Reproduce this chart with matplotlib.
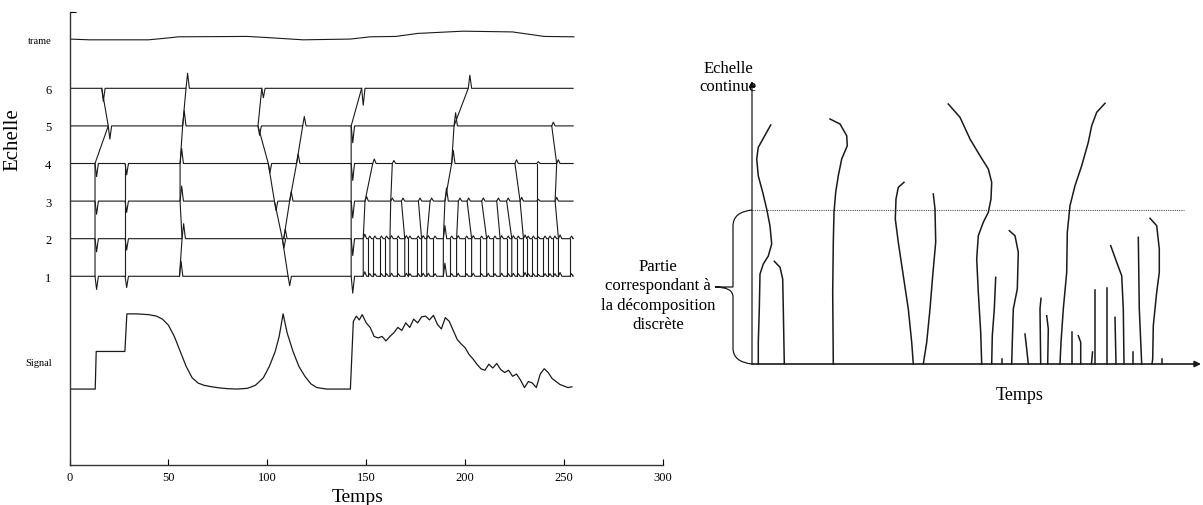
import matplotlib
matplotlib.use("Agg")
import matplotlib.pyplot as plt
from matplotlib.path import Path
from matplotlib.patches import PathPatch

plt.rcParams['font.family'] = ['Liberation Serif', 'DejaVu Serif']

# ---------------- left panel data ----------------
scale_levels = [1, 2, 3, 4, 5, 6]
level_labels = ['1', '2', '3', '4', '5', '6']
t_end = 254.6

trame_t = [0, 10, 40, 50, 55, 90, 100, 118, 142, 152, 165, 176, 199, 224, 240, 255]
trame_v = [7.31, 7.29, 7.29, 7.34, 7.37, 7.38, 7.35, 7.29, 7.31, 7.37, 7.38, 7.46, 7.52, 7.50, 7.38, 7.37]

signal_t = [0, 13, 13.5, 28, 29, 34, 40, 44, 47, 50, 53, 56, 59, 62, 65, 68, 72, 76, 80, 85,
            90, 94, 98, 101, 104, 106, 107, 108, 110, 113, 116, 119, 122, 125, 130, 142, 143.5,
            145, 146.5, 148, 150, 152, 154, 156, 158, 160, 162, 164, 166, 168, 170, 172, 174,
            176, 178, 180, 182, 184, 186, 188, 190, 192, 194, 196, 198, 200, 202, 204, 206, 208,
            210, 212, 214, 216, 218, 220, 222, 224, 226, 228, 230, 232, 234, 236, 238, 240, 242,
            244, 246, 248, 250, 252, 254]
signal_v = [0, 0, 0.5, 0.5, 1.0, 1.0, 0.99, 0.97, 0.93, 0.85, 0.7, 0.5, 0.3, 0.15, 0.08, 0.05,
            0.03, 0.015, 0.005, 0.0, 0.01, 0.05, 0.15, 0.3, 0.5, 0.7, 0.85, 1.0, 0.75, 0.5, 0.3,
            0.17, 0.07, 0.02, 0.0, 0.0, 0.9, 0.97, 0.92, 0.99, 0.88, 0.82, 0.7, 0.68, 0.7, 0.64,
            0.7, 0.75, 0.82, 0.78, 0.88, 0.82, 0.93, 0.88, 0.96, 0.97, 0.92, 0.98, 0.86, 0.8,
            0.95, 0.9, 0.78, 0.66, 0.6, 0.55, 0.46, 0.4, 0.33, 0.27, 0.25, 0.33, 0.28, 0.34,
            0.26, 0.22, 0.25, 0.17, 0.2, 0.12, 0.02, 0.1, 0.08, 0.02, 0.2, 0.27, 0.22, 0.14,
            0.1, 0.06, 0.04, 0.02, 0.03]

# maxima chains: (level, time) from coarse to fine scale
chains = [
    [(6, 16.3), (5, 19.6), (4, 12.9), (3, 12.9), (2, 12.9), (1, 12.9)],
    [(4, 28.1), (3, 28.1), (2, 28.1), (1, 28.1)],
    [(6, 58.9), (5, 57.2), (4, 55.9), (3, 55.9), (2, 56.9), (1, 55.6)],
    [(6, 97.2), (5, 95.3), (4, 100.5), (3, 103.6), (2, 107.6), (1, 110.5)],
    [(5, 117.9), (4, 114.8), (3, 111.3), (2, 108.3)],
    [(6, 147.7), (5, 142.4), (4, 142.4), (3, 142.4), (2, 142.4), (1, 142.4)],
    [(4, 153.3), (3, 149.4), (2, 148.5), (1, 148.5)],
    [(4, 163.2), (3, 162.4), (2, 162.0), (1, 162.0)],
    [(6, 201.6), (5, 194.4), (4, 193.2), (3, 189.8), (2, 189.0), (1, 189.0)],
    [(4, 225.2), (3, 227.8), (2, 229.5), (1, 229.5)],
    [(4, 236.2), (3, 236.2), (2, 236.2), (1, 236.2)],
    [(5, 243.8), (4, 246.3), (3, 245.5), (2, 247.2), (1, 247.2)],
    [(3, 167.8), (2, 169.5), (1, 169.5)],
    [(3, 176.4), (2, 178.0), (1, 178.0)],
    [(3, 182.3), (2, 180.6), (1, 180.6)],
    [(3, 196.6), (2, 195.7), (1, 195.7)],
    [(3, 201.0), (2, 203.3), (1, 203.3)],
    [(3, 208.4), (2, 210.9), (1, 210.9)],
    [(3, 216.0), (2, 217.7), (1, 217.7)],
    [(3, 221.0), (2, 223.6), (1, 223.6)],
]
chain_amp = [-0.35, -0.3, 0.4, -0.25, 0.25, -0.45, 0.12, 0.08, 0.35, 0.1, 0.05, 0.1,
             0.08, 0.08, 0.08, 0.08, 0.08, 0.08, 0.08, 0.08]

# short maxima lines between the two finest scales
fine_lines = [151.0, 153.6, 156.9, 159.5, 165.4, 171.3, 175.5, 184.0, 192.4, 200.0, 207.5,
              214.3, 221.0, 226.1, 231.1, 233.7, 239.6, 242.1, 244.6, 253.0]
for t in fine_lines:
    chains.append([(2, t), (1, t)])
    chain_amp.append(0.07)

# ---------------- right panel data ----------------
ridges = [
    [(18.7, 239), (6.3, 216.7), (4.7, 205), (6.3, 188), (10.7, 171.7), (14.7, 155), (18, 138),
     (19.7, 120), (16.3, 108), (11.3, 100), (8, 90), (7.3, 55), (6.3, 21.7), (6.3, 0)],
    [(22.3, 102.7), (28, 96.7), (30.7, 85), (31.3, 55), (32.3, 0)],
    [(78, 245), (88, 240), (94.7, 228.3), (95.3, 218.3), (89.7, 205), (86.3, 188.3),
     (83.7, 171.7), (82, 151.7), (81.3, 121.7), (80.7, 71.7), (81.3, 0)],
    [(152, 181.7), (146.3, 176.7), (144, 165), (143.3, 145), (146.3, 121.7), (151.3, 88.3),
     (156.3, 55), (159.7, 21.7), (161.3, 0)],
    [(181.3, 170), (183, 155), (183.7, 121.7), (180.7, 88.3), (178, 55), (174.7, 21.7), (171.3, 0)],
    [(196.3, 260), (208, 246.7), (218, 225), (228, 208.3), (236.3, 195), (239.7, 181.7),
     (239, 165), (236.3, 151.7), (231.3, 141.7), (226.3, 128.3), (224.7, 105), (226.3, 71.7),
     (228.7, 31.7), (229.7, 0)],
    [(243.7, 86.7), (242.3, 55), (240.3, 28.3), (239.7, 0)],
    [(257.3, 133.3), (263, 128.3), (266.3, 111.7), (265.3, 75), (261.3, 55), (260.3, 21.7), (259.7, 0)],
    [(249.7, 5), (249.7, 0)],
    [(273, 30), (274.7, 15), (276.3, 0)],
    [(289, 65.7), (288, 55), (288.7, 0)],
    [(294.7, 48.3), (296.3, 35), (295.7, 0)],
    [(353, 260.7), (344.7, 251.7), (339.7, 238.3), (336.3, 221.7), (329.7, 198.3), (323, 178.3),
     (318, 158.3), (315.3, 131.7), (314.7, 91.7), (311.3, 55), (309, 21.7), (308, 0)],
    [(319.7, 31.7), (319.7, 0)],
    [(326.3, 28.3), (328.7, 21.7), (328.7, 0)],
    [(340.5, 12), (339.5, 0)],
    [(343, 74), (343, 0)],
    [(354.7, 75.7), (354.7, 0)],
    [(358.7, 118.3), (364.7, 101.7), (369.7, 88.3), (371.3, 55), (372, 0)],
    [(363, 46.7), (364, 0)],
    [(380.7, 11.7), (380.7, 0)],
    [(386.3, 126.7), (387.3, 55), (389.7, 0)],
    [(398, 145.7), (404.7, 138.3), (407.3, 115), (407.3, 91.7), (404.7, 71.7), (401.3, 38.3),
     (400.7, 5), (400, 0)],
    [(409.7, 5), (409.7, 0)],
]
discrete_limit = 154
dotted_end = 432

ink = '#1a1a1a'

fig = plt.figure(figsize=(12.03, 5.06), dpi=100)

# ---------------- left panel ----------------
ax = fig.add_axes([69.5 / 1203, 40 / 506, 593.4 / 1203, 453 / 506])
ax.set_facecolor('none')
ax.set_xlim(0, 300)
ax.set_ylim(-4.02, 8.03)

ax.plot(trame_t, trame_v, color=ink, lw=0.8)

for lev in scale_levels:
    spikes = sorted((t, a) for ch, a in zip(chains, chain_amp) for (l, t) in ch if l == lev)
    xs, ys = [0], [lev]
    for t, a in spikes:
        xs += [t, t + 0.8, t + 1.7]
        ys += [lev, lev + a, lev]
    xs.append(t_end)
    ys.append(lev)
    ax.plot(xs, ys, color=ink, lw=0.8)

for ch in chains:
    ax.plot([t for l, t in ch], [l for l, t in ch], color=ink, lw=0.8)

ax.plot(signal_t, [-2 + 2 * v for v in signal_v], color=ink, lw=0.9)

for side in ['top', 'right']:
    ax.spines[side].set_visible(False)
for side in ['left', 'bottom']:
    ax.spines[side].set_color('#333333')
    ax.spines[side].set_linewidth(1.0)

ax.set_xticks([0, 50, 100, 150, 200, 250, 300])
ax.tick_params(axis='x', direction='in', length=4, width=0.8, labelsize=9, pad=4)
ax.set_yticks([-1.26] + scale_levels + [7.31])
ax.set_yticklabels(['Signal'] + level_labels + ['trame'])
ax.tick_params(axis='y', length=0, pad=13, labelsize=9)
for lab in ax.get_yticklabels():
    if lab.get_text() in ('Signal', 'trame'):
        lab.set_fontsize(7.5)
ax.set_yticks([8.03], minor=True)
ax.tick_params(axis='y', which='minor', direction='in', length=4, width=0.8)

ax.set_xlabel('Temps', fontsize=14)
ax.xaxis.set_label_coords(0.486, -0.05)
ax.set_ylabel('Echelle', fontsize=15)
ax.yaxis.set_label_coords(-0.08, 0.72)

# ---------------- right panel ----------------
ax2 = fig.add_axes([752 / 1203, 141 / 506, 451 / 1203, 305 / 506])
ax2.set_facecolor('none')
ax2.set_xlim(0, 451)
ax2.set_ylim(0, 305)
ax2.axis('off')

ax2.annotate('', xy=(0, 283), xytext=(0, 0),
             arrowprops=dict(arrowstyle='-|>', lw=0.9, color=ink, mutation_scale=9,
                             shrinkA=0, shrinkB=0))
ax2.annotate('', xy=(449, 0), xytext=(0, 0),
             arrowprops=dict(arrowstyle='-|>', lw=1.2, color=ink, mutation_scale=9,
                             shrinkA=0, shrinkB=0))

ax2.plot([0, dotted_end], [discrete_limit, discrete_limit], color='#555555', lw=0.8,
         ls=(0, (1, 1)), clip_on=False)

for r in ridges:
    ax2.plot([p[0] for p in r], [p[1] for p in r], color=ink, lw=1.1, clip_on=False)

# curly brace for the discrete part
bx, tip = -19, -37
mid = discrete_limit / 2
verts = [(0, discrete_limit), (bx, discrete_limit - 2), (bx, discrete_limit - 16), (bx, discrete_limit - 16),
         (bx, mid + 10), (bx, mid + 10), (bx, mid), (tip, mid), (tip, mid),
         (bx, mid), (bx, mid - 10), (bx, mid - 10), (bx, 16), (bx, 16), (bx, 2), (0, 0)]
codes = [Path.MOVETO, Path.CURVE3, Path.CURVE3, Path.LINETO,
         Path.LINETO, Path.CURVE3, Path.CURVE3, Path.LINETO, Path.LINETO,
         Path.CURVE3, Path.CURVE3, Path.LINETO, Path.LINETO, Path.LINETO, Path.CURVE3, Path.CURVE3]
ax2.add_patch(PathPatch(Path(verts, codes), fill=False, ec=ink, lw=0.9, clip_on=False))

ax2.text(-24, 287, 'Echelle\ncontinue', ha='center', va='center', fontsize=12,
         linespacing=1.15)
ax2.text(268, -30, 'Temps', ha='center', va='center', fontsize=13)
ax2.text(-94, 69, 'Partie\ncorrespondant à\nla décomposition\ndiscrète', ha='center',
         va='center', fontsize=12, linespacing=1.3, multialignment='center')

fig.savefig('out.png', dpi=100)
